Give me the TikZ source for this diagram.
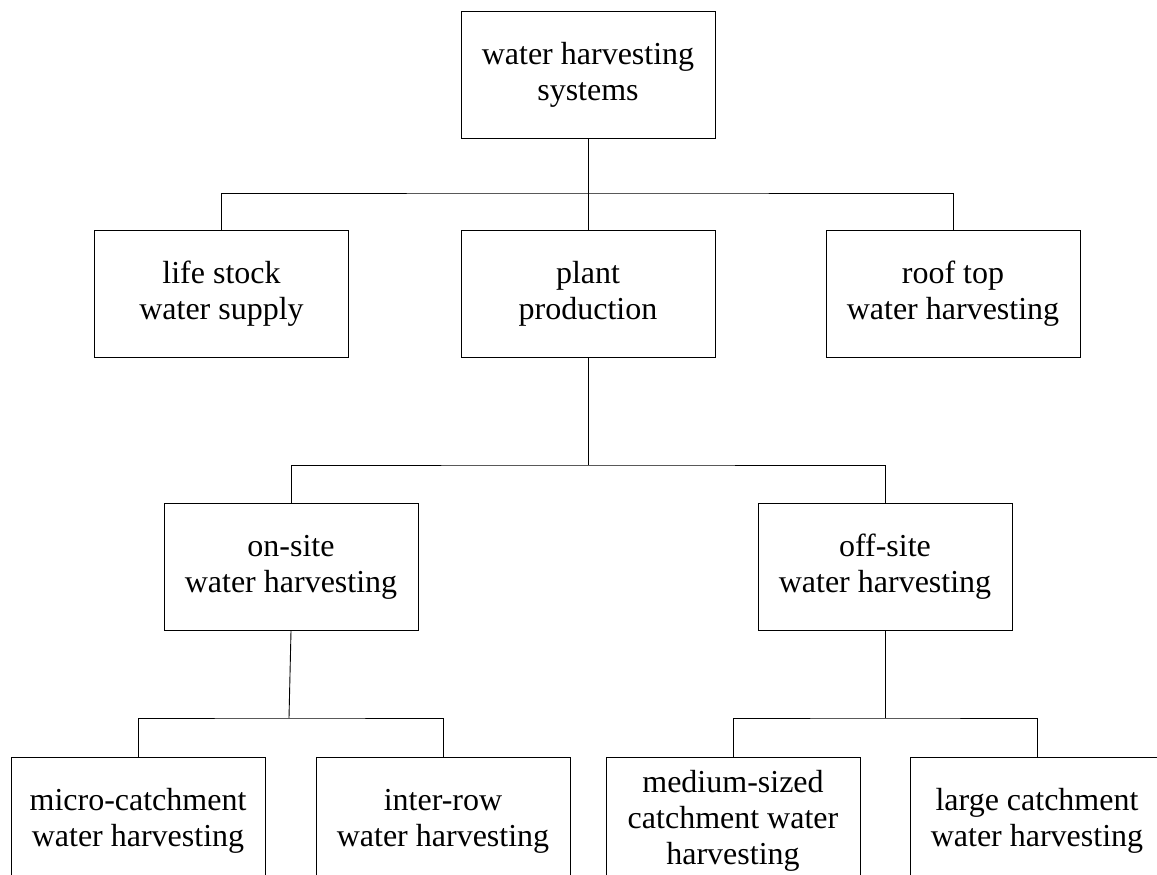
\documentclass[tikz,border=0pt]{standalone}
\usepackage{fontspec}
\setmainfont{Liberation Serif}

\begin{document}
\begin{tikzpicture}[x=1pt, y=-1pt,
  box/.style={draw, line width=0.9pt, minimum width=254pt, minimum height=127pt,
    inner sep=0pt, align=center, font=\fontsize{32}{36}\selectfont},
  link/.style={line width=0.9pt}]
  \useasboundingbox (0,0) rectangle (1157,875);
  \clip (0,0) rectangle (1157,875);
  % --- nivel 0 ---
  \node[box] (sys) at (588,75) {water harvesting\\systems};
  % --- nivel 1 ---
  \node[box] (live)  at (221.5,294) {life stock\\water supply};
  \node[box] (plant) at (588,294)   {plant\\production};
  \node[box] (roof)  at (953,294)   {roof top\\water harvesting};
  % --- nivel 2 ---
  \node[box] (onsite)  at (291,567) {on-site\\water harvesting};
  \node[box] (offsite) at (885,567) {off-site\\water harvesting};
  % --- nivel 3 ---
  \node[box] (micro)  at (138,821)  {micro-catchment\\water harvesting};
  \node[box] (inter)  at (443,821)  {inter-row\\water harvesting};
  \node[box] (medium) at (733,821)  {medium-sized\\catchment water\\harvesting};
  \node[box] (large)  at (1037,821) {large catchment\\water harvesting};
  % --- barras de ligacao ---
  \coordinate (bus1) at (588,193);
  \coordinate (bus2) at (588,465);
  \coordinate (bus3) at (289,718);
  \coordinate (bus4) at (885,718);
  \draw[link] (sys.south) -- (bus1);
  \draw[link] (live.north) |- (bus1) -| (roof.north);
  \draw[link] (bus1) -- (plant.north);
  \draw[link] (plant.south) -- (bus2);
  \draw[link] (onsite.north) |- (bus2) -| (offsite.north);
  \draw[link] (onsite.south) -- (bus3);
  \draw[link] (micro.north) |- (bus3) -| (inter.north);
  \draw[link] (offsite.south) -- (bus4);
  \draw[link] (medium.north) |- (bus4) -| (large.north);
\end{tikzpicture}
\end{document}
